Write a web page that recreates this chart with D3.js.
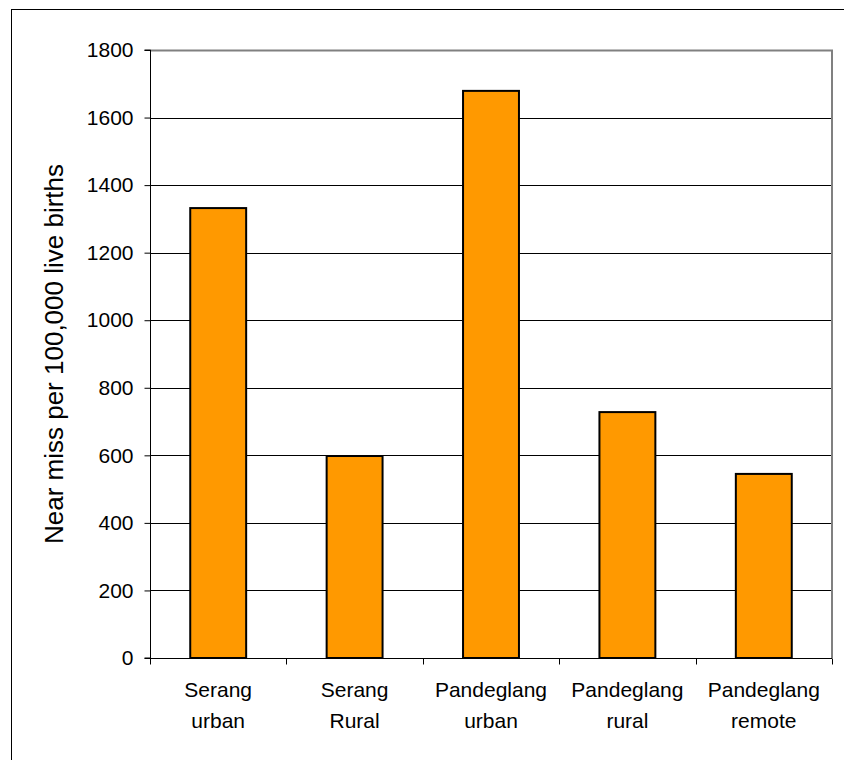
<!DOCTYPE html>
<html>
<head>
<meta charset="utf-8">
<script src="https://cdn.jsdelivr.net/npm/d3@7"></script>
<style>
  body { margin: 0; background: #fff; }
  text { font-family: "Liberation Sans", Arial, sans-serif; fill: #000; }
</style>
</head>
<body>
<div id="plot"></div>
<script>
var svgWidth = 844;
var svgHeight = 760;

// chart data
var categories = ["Serang urban", "Serang Rural", "Pandeglang urban", "Pandeglang rural", "Pandeglang remote"];
var labelLines = [["Serang", "urban"], ["Serang", "Rural"], ["Pandeglang", "urban"], ["Pandeglang", "rural"], ["Pandeglang", "remote"]];
var nearMiss = [1332, 598, 1679, 728, 545];
var yTicks = [0, 200, 400, 600, 800, 1000, 1200, 1400, 1600, 1800];

var margin = { top: 50, right: 12, bottom: 102, left: 150 };
var width = svgWidth - margin.left - margin.right;
var height = svgHeight - margin.top - margin.bottom;

var svg = d3.select("#plot")
  .append("svg")
  .attr("width", svgWidth)
  .attr("height", svgHeight);

// outer frame
svg.append("rect")
  .attr("x", 11.5)
  .attr("y", 9.5)
  .attr("width", 850)
  .attr("height", 800)
  .attr("fill", "none")
  .attr("stroke", "#000")
  .attr("stroke-width", 1);

var chartGroup = svg.append("g")
  .attr("transform", `translate(${margin.left}, ${margin.top})`);

var xScale = d3.scaleBand()
  .domain(categories)
  .range([0, width])
  .paddingInner(0.59)
  .paddingOuter(0.295);

var xEdges = d3.scaleBand()
  .domain(categories)
  .range([0, width]);

var yScale = d3.scaleLinear()
  .domain([0, 1800])
  .range([height, 0]);

// gridlines
chartGroup.append("g")
  .selectAll("line")
  .data(yTicks.filter(d => d > 0 && d < 1800))
  .enter()
  .append("line")
  .attr("x1", 0)
  .attr("x2", width)
  .attr("y1", d => Math.round(yScale(d)) + 0.5)
  .attr("y2", d => Math.round(yScale(d)) + 0.5)
  .attr("stroke", "#000")
  .attr("stroke-width", 1);

// plot border top + right (gray)
chartGroup.append("path")
  .attr("d", `M0,0.5 H${width} V${height}`)
  .attr("fill", "none")
  .attr("stroke", "#808080")
  .attr("stroke-width", 2);

// bars
chartGroup.selectAll(".bar")
  .data(nearMiss)
  .enter()
  .append("rect")
  .attr("class", "bar")
  .attr("x", (d, i) => xScale(categories[i]))
  .attr("y", d => yScale(d))
  .attr("width", xScale.bandwidth())
  .attr("height", d => height - yScale(d))
  .attr("fill", "#FF9900")
  .attr("stroke", "#000")
  .attr("stroke-width", 2);

// y axis
var leftAxis = d3.axisLeft(yScale)
  .tickValues(yTicks)
  .tickFormat(d3.format("d"))
  .tickSize(6)
  .tickPadding(11);

var yAxisG = chartGroup.append("g")
  .attr("transform", "translate(0.5,0)")
  .call(leftAxis);
yAxisG.select(".domain").attr("stroke", "#000").attr("d", `M-6,${height}H0V0H-6`);
yAxisG.selectAll(".tick line").attr("stroke", "#000");
yAxisG.selectAll(".tick text")
  .attr("font-size", "21px")
  .attr("font-family", "Liberation Sans, Arial, sans-serif");

// x axis: boundary ticks
var xAxisG = chartGroup.append("g")
  .attr("transform", `translate(0, ${height + 0.5})`);
xAxisG.append("line")
  .attr("x1", 0)
  .attr("x2", width)
  .attr("stroke", "#000");
xAxisG.selectAll(".edge")
  .data(categories.concat(["end"]))
  .enter()
  .append("line")
  .attr("class", "edge")
  .attr("x1", (d, i) => Math.round(i < categories.length ? xEdges(d) : width) + 0.5)
  .attr("x2", (d, i) => Math.round(i < categories.length ? xEdges(d) : width) + 0.5)
  .attr("y1", 0)
  .attr("y2", 6)
  .attr("stroke", "#000");

// category labels
var labels = xAxisG.selectAll(".cat")
  .data(categories)
  .enter()
  .append("text")
  .attr("class", "cat")
  .attr("text-anchor", "middle")
  .attr("font-size", "21px")
  .attr("x", d => xEdges(d) + xEdges.bandwidth() / 2);

labels.each(function(d, i) {
  var t = d3.select(this);
  labelLines[i].forEach(function(line, j) {
    t.append("tspan")
      .attr("x", xEdges(d) + xEdges.bandwidth() / 2)
      .attr("y", 38 + j * 31)
      .text(line);
  });
});

// y axis title
chartGroup.append("text")
  .attr("transform", `translate(${63 - margin.left}, ${height / 2}) rotate(-90)`)
  .attr("text-anchor", "middle")
  .attr("font-size", "26px")
  .text("Near miss per 100,000 live births");
</script>
</body>
</html>
